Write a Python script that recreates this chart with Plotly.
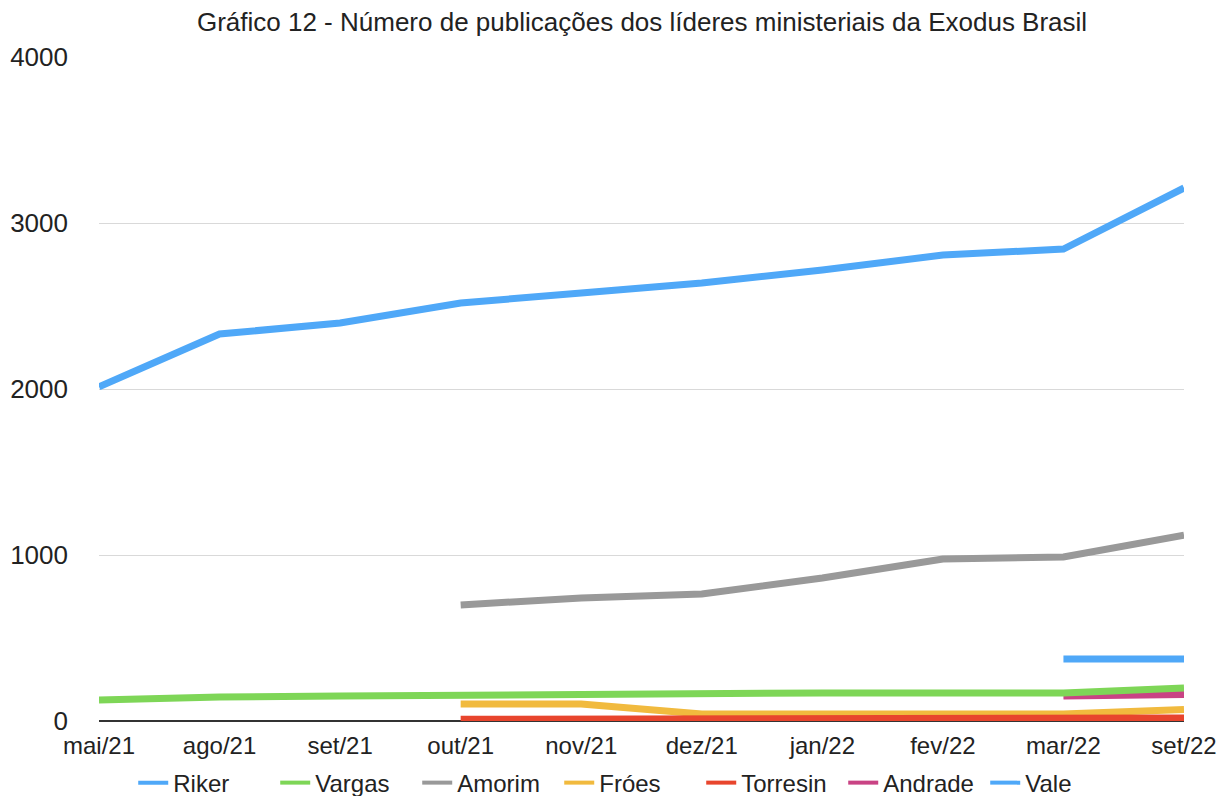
import plotly.graph_objects as go

categories = ["mai/21", "ago/21", "set/21", "out/21", "nov/21", "dez/21", "jan/22", "fev/22", "mar/22", "set/22"]
riker = [2013, 2331, 2398, 2518, 2578, 2639, 2717, 2807, 2843, 3211]
vargas = [127, 145, 151, 157, 160, 163, 169, 169, 169, 199]
amorim = [None, None, None, 699, 741, 765, 861, 976, 988, 1120]
froes = [None, None, None, 102, 102, 42, 42, 42, 42, 70]
torresin = [None, None, None, 10, 10, 10, 10, 10, 10, 18]
andrade = [None, None, None, None, None, None, None, None, 150, 160]
vale = [None, None, None, None, None, None, None, None, 373, 373]

series = [
    ("Riker", riker, "#4FA8F8"),
    ("Vargas", vargas, "#7ED657"),
    ("Amorim", amorim, "#999999"),
    ("Fróes", froes, "#F1BA3E"),
    ("Torresin", torresin, "#E8452D"),
    ("Andrade", andrade, "#C94384"),
    ("Vale", vale, "#4FA8F8"),
]

fig = go.Figure()
# data lines (Vargas drawn last so it sits on top of the small series)
draw_order = [0, 2, 3, 4, 5, 6, 1]
for i in draw_order:
    name, vals, color = series[i]
    fig.add_trace(go.Scatter(x=categories, y=vals, name=name, mode="lines",
                             line=dict(color=color, width=7), connectgaps=False,
                             showlegend=False, legendgroup=name))
# legend entries with thin short keys
for i, (name, vals, color) in enumerate(series):
    fig.add_trace(go.Scatter(x=[None], y=[None], name=name, mode="lines",
                             line=dict(color=color, width=4), legendgroup=name,
                             legendrank=i + 1, showlegend=True))

fig.update_layout(
    width=1219, height=796,
    paper_bgcolor="white", plot_bgcolor="white",
    margin=dict(l=99, r=35, t=57, b=75, autoexpand=False),
    font=dict(family="Liberation Sans, Arial, sans-serif", color="#222222"),
    title=dict(text="Gráfico 12 - Número de publicações dos líderes ministeriais da Exodus Brasil",
               x=0.5267, xanchor="center", xref="container",
               y=0.9724, yanchor="middle", yref="container",
               font=dict(size=26, color="#222222")),
    showlegend=True,
    legend=dict(orientation="h", x=0.517, xanchor="center", xref="container",
                y=0.0163, yanchor="middle", yref="container",
                font=dict(size=24, color="#222222"), itemwidth=30, entrywidth=97,
                traceorder="normal"),
    xaxis=dict(type="category", range=[0, 9], showgrid=False, showline=False,
               zeroline=False, tickfont=dict(size=24), ticks="", ticklabelstandoff=8,
               automargin=False),
    yaxis=dict(range=[0, 4000], tickvals=[0, 1000, 2000, 3000, 4000], showgrid=True,
               gridcolor="#D9D9D9", gridwidth=1, zeroline=True, zerolinecolor="#333333",
               zerolinewidth=2, tickfont=dict(size=26), ticklabelstandoff=30, showline=False,
               automargin=False),
)

fig.write_html("out.html", config={"displayModeBar": False},
               post_script="document.body.style.margin='0';document.body.style.overflow='hidden';")
